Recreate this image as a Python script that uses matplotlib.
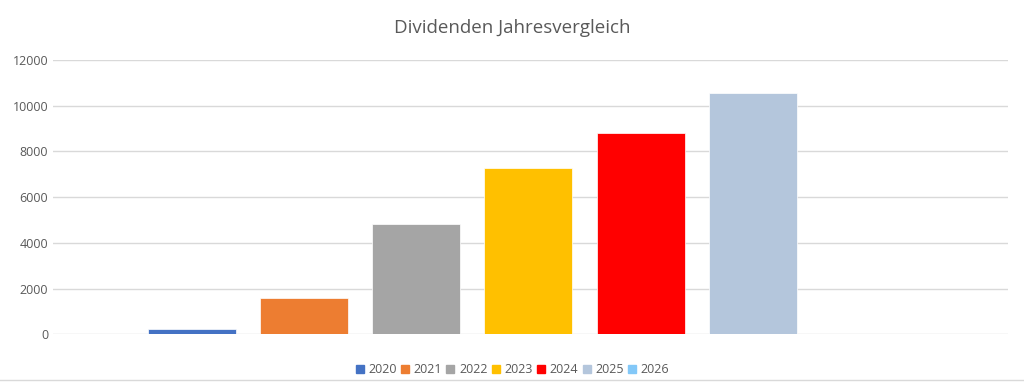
import matplotlib
matplotlib.use("Agg")
import matplotlib.pyplot as plt
from matplotlib.lines import Line2D
import numpy as np

# data
years = ["2020", "2021", "2022", "2023", "2024", "2025", "2026"]
dividends = [220, 1590, 4825, 7275, 8790, 10570, 0]
colors = ["#4472C4", "#ED7D31", "#A5A5A5", "#FFC000", "#FF0000", "#B4C6DC", "#83C8F8"]
yticks = [0, 2000, 4000, 6000, 8000, 10000, 12000]

plt.rcParams['font.family'] = ['Open Sans', 'DejaVu Sans']
text_col = "#595959"

fig = plt.figure(figsize=(10.24, 3.82), dpi=100)
ax = fig.add_axes([53 / 1024, 47.7 / 382, 954.7 / 1024, 274.3 / 382])

step = 0.1176
width = 0.0921
for i, (yr, val, c) in enumerate(zip(years, dividends, colors)):
    ax.bar((i - 3) * step - 0.002, val, width=width, color=c, label=yr,
           edgecolor="white", linewidth=0.5, zorder=3)

ax.set_xlim(-0.5, 0.5)
ax.set_ylim(0, 12000)
ax.set_yticks(yticks)
ax.set_xticks([])
ax.yaxis.grid(True, color="#d9d9d9", linewidth=1, zorder=0)
for s in ax.spines.values():
    s.set_visible(False)
ax.tick_params(axis="y", length=0, pad=3.5, labelsize=9, labelcolor=text_col)

fig.suptitle("Dividenden Jahresvergleich", x=0.5, y=0.95, fontsize=13.5,
             color=text_col)

handles = [Line2D([], [], marker="s", linestyle="none", markersize=5.5,
                  markerfacecolor=c, markeredgecolor=c) for c in colors]
fig.legend(handles, years, loc="center", bbox_to_anchor=(0.5, 0.032),
           ncol=7, frameon=False, fontsize=9, labelcolor=text_col,
           handletextpad=0.3, columnspacing=0.25, handlelength=0.8)

# thin border line at the bottom of the chart area
fig.add_artist(Line2D([0, 1], [0.004, 0.004], color="#d9d9d9", linewidth=1,
                      transform=fig.transFigure))

fig.savefig("out.png", dpi=100)
